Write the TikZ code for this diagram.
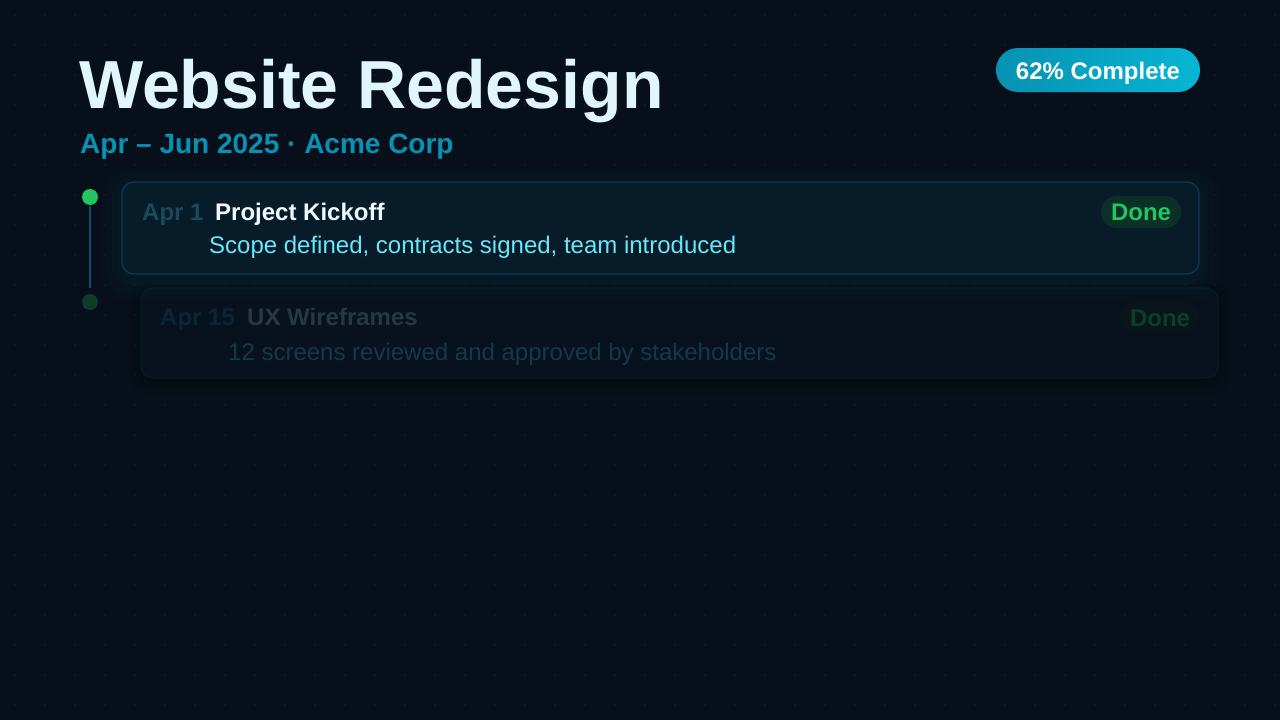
\documentclass[tikz,border=0pt]{standalone}
\usepackage{fontspec}
\setmainfont{Liberation Sans}
\usetikzlibrary{calc}
\definecolor{bg}{HTML}{07101A}
\definecolor{gdot}{HTML}{101C28}
\definecolor{titlec}{HTML}{E0F6FB}
\definecolor{subc}{HTML}{0891B2}
\definecolor{badgeA}{HTML}{0891B2}
\definecolor{badgeB}{HTML}{06B6D4}
\definecolor{cardfill}{HTML}{081B29}
\definecolor{cardedge}{HTML}{0F3A52}
\definecolor{glow}{HTML}{0B2536}
\definecolor{datec}{HTML}{17495F}
\definecolor{headc}{HTML}{F0F9FF}
\definecolor{descc}{HTML}{67E8F9}
\definecolor{donefill}{HTML}{0B3028}
\definecolor{donetext}{HTML}{22C55E}
\definecolor{linec}{HTML}{164E63}
\definecolor{dotoff}{HTML}{0F3B2A}
\definecolor{cardfillB}{HTML}{07121E}
\definecolor{cardedgeB}{HTML}{0A1925}
\definecolor{dateB}{HTML}{0C2433}
\definecolor{headB}{HTML}{283744}
\definecolor{descB}{HTML}{163846}
\definecolor{donefillB}{HTML}{08161C}
\definecolor{donetextB}{HTML}{0F3D2A}
\tikzset{
  txt/.style={inner sep=0pt, anchor=base west},
  bodyfont/.style={font=\fontsize{24}{28}\selectfont},
  boldfont/.style={font=\fontsize{24}{28}\selectfont\bfseries},
  cardbox/.style={rounded corners=12pt, line width=1.2pt},
  pill/.style={rounded corners=16pt},
}
\begin{document}
\begin{tikzpicture}[x=1pt,y=-1pt]
\useasboundingbox (0,0) rectangle (1280,720);
\fill[bg] (0,0) rectangle (1280,720);
\foreach \gx in {15,45,...,1275}{\foreach \gy in {15,45,...,705}{\fill[gdot] (\gx,\gy) circle (1.1pt);}}

% title
\node[txt, text=titlec, font=\fontsize{68}{80}\selectfont\bfseries] (title) at (79,108) {Website Redesign};
\node[txt, text=subc, font=\fontsize{28}{32}\selectfont\bfseries] (sub) at (80,153) {Apr – Jun 2025 · Acme Corp};

% badge
\shade[left color=badgeA, right color=badgeB, rounded corners=22pt] (996,48) rectangle (1200,92);
\node[text=white, font=\fontsize{24}{28}\selectfont\bfseries, inner sep=0pt, anchor=base] (badge) at (1098,79) {62\% Complete};

% timeline
\fill[donetext] (90,197) circle (8pt) coordinate (d1);
\fill[dotoff] (90,302) circle (8pt) coordinate (d2);
\coordinate (l1) at (90,206);
\coordinate (l2) at (90,288);
\draw[linec, line width=2pt] (l1) -- (l2);

% card 2 (faded)
\foreach \k/\op in {12/0.04,8/0.05,4/0.06}{
  \fill[black, opacity=\op, rounded corners=16pt] ($(141,288)+(-\k,-\k+4)$) rectangle ($(1218,378)+(\k,\k+4)$);
}
\draw[cardbox, fill=cardfillB, draw=cardedgeB] (141,288) rectangle (1218,378);
\node[txt, boldfont, text=dateB] (date2) at (160,325) {Apr 15};
\node[txt, boldfont, text=headB] (head2) at (247,325) {UX Wireframes};
\node[txt, bodyfont, text=descB] (desc2) at (228,360) {12 screens reviewed and approved by stakeholders};
\fill[donefillB, pill] (1120,301) rectangle (1199,333);
\node[txt, boldfont, text=donetextB, anchor=base] (done2) at (1160,326) {Done};

% card 1 glow
\foreach \k/\op in {20/0.08,15/0.1,10/0.14,5/0.2}{
  \fill[glow, opacity=\op, rounded corners=18pt] ($(122,182)+(-\k,-\k+6)$) rectangle ($(1199,274)+(\k,\k+6)$);
}
\draw[cardbox, fill=cardfill, draw=cardedge] (122,182) rectangle (1199,274);
\node[txt, boldfont, text=datec] (date1) at (142,220) {Apr 1};
\node[txt, boldfont, text=headc] (head1) at (215,220) {Project Kickoff};
\node[txt, bodyfont, text=descc] (desc1) at (209,253) {Scope defined, contracts signed, team introduced};
\fill[donefill, pill] (1101,196) rectangle (1181,228);
\node[txt, boldfont, text=donetext, anchor=base] (done1) at (1141,220) {Done};
\end{tikzpicture}
\end{document}
